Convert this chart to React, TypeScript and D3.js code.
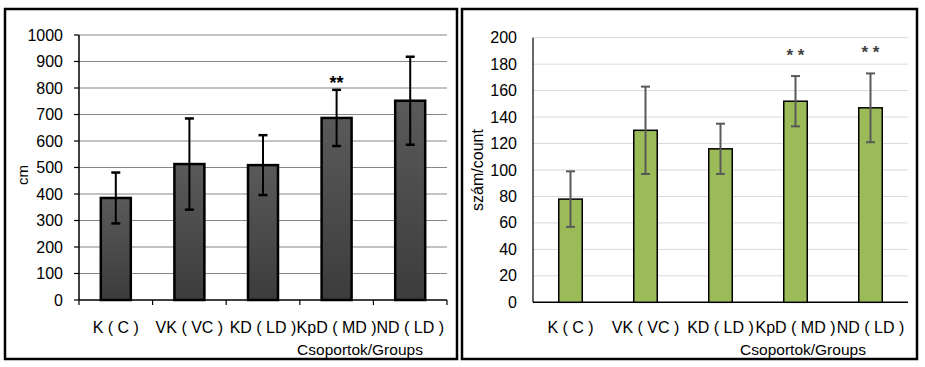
import React from "react";
import * as d3 from "d3";

const categories = ["K ( C )", "VK ( VC )", "KD ( LD )", "KpD ( MD )", "ND ( LD )"];
const lengthMeans = [385, 513, 509, 687, 752];
const lengthErrors = [96, 172, 113, 106, 166];
const lengthSig = ["", "", "", "**", ""];
const countMeans = [78, 130, 116, 152, 147];
const countErrors = [21, 33, 19, 19, 26];
const countSig = ["", "", "", "* *", "* *"];
const lengthTicks = d3.range(0, 1001, 100);
const countTicks = d3.range(0, 201, 20);

const FONT = "Arial, 'Liberation Sans', sans-serif";

function LeftChart() {
  const x = d3.scaleBand<string>().domain(categories).range([79, 447]);
  const y = d3.scaleLinear().domain([0, 1000]).range([300, 35]);
  const bw = 30;
  return (
    <g>
      <defs>
        <linearGradient id="gbar" x1="0" y1="0" x2="0" y2="1">
          <stop offset="0" stopColor="#5a5a5a" />
          <stop offset="1" stopColor="#3c3c3c" />
        </linearGradient>
      </defs>
      <rect x={5} y={9} width={452} height={350} fill="white" stroke="black" strokeWidth={2.5} />
      {lengthTicks.filter((t) => t > 0).map((t) => (
        <line key={t} x1={79} x2={447} y1={y(t)} y2={y(t)} stroke="#868686" strokeWidth={1} />
      ))}
      {lengthTicks.map((t) => (
        <g key={"t" + t}>
          <line x1={74} x2={79} y1={y(t)} y2={y(t)} stroke="black" strokeWidth={1.2} />
          <text x={63} y={y(t) + 5.5} textAnchor="end" fontSize={16} fontFamily={FONT} fill="#000">{t}</text>
        </g>
      ))}
      <line x1={79} x2={79} y1={35} y2={300} stroke="black" strokeWidth={1.5} />
      <line x1={79} x2={447} y1={300} y2={300} stroke="black" strokeWidth={1.5} />
      {[...categories.map((c) => x(c)!), 447].map((p, i) => (
        <line key={"xt" + i} x1={p} x2={p} y1={300} y2={305} stroke="black" strokeWidth={1.2} />
      ))}
      {categories.map((c, i) => {
        const cx = x(c)! + x.bandwidth() / 2;
        const m = lengthMeans[i];
        const e = lengthErrors[i];
        return (
          <g key={c}>
            <rect x={cx - bw / 2} y={y(m)} width={bw} height={y(0) - y(m)} fill="url(#gbar)" stroke="black" strokeWidth={2.5} />
            <line x1={cx} x2={cx} y1={y(m + e)} y2={y(m - e)} stroke="black" strokeWidth={2} />
            <line x1={cx - 4.5} x2={cx + 4.5} y1={y(m + e)} y2={y(m + e)} stroke="black" strokeWidth={2.5} />
            <line x1={cx - 4.5} x2={cx + 4.5} y1={y(m - e)} y2={y(m - e)} stroke="black" strokeWidth={2.5} />
            {lengthSig[i] && (
              <text x={cx} y={y(m + e) - 1} textAnchor="middle" fontSize={18} fontWeight="bold" fontFamily={FONT}>{lengthSig[i]}</text>
            )}
            <text x={cx} y={333} textAnchor="middle" fontSize={16} fontFamily={FONT}>{c}</text>
          </g>
        );
      })}
      <text transform={`translate(28,175) rotate(-90)`} textAnchor="middle" fontSize={15} fontFamily={FONT}>cm</text>
      <text x={360} y={355} textAnchor="middle" fontSize={15.5} fontFamily={FONT}>Csoportok/Groups</text>
    </g>
  );
}

function RightChart() {
  const x = d3.scaleBand<string>().domain(categories).range([533, 908]);
  const y = d3.scaleLinear().domain([0, 200]).range([302.3, 37.7]);
  const bw = 23.5;
  return (
    <g>
      <rect x={462} y={9} width={455} height={350} fill="white" stroke="black" strokeWidth={2.5} />
      {countTicks.filter((t) => t > 0).map((t) => (
        <line key={t} x1={533} x2={908} y1={y(t)} y2={y(t)} stroke="#d9d9d9" strokeWidth={1} />
      ))}
      {countTicks.map((t) => (
        <text key={"t" + t} x={517} y={y(t) + 5.5} textAnchor="end" fontSize={16} fontFamily={FONT} fill="#000">{t}</text>
      ))}
      <line x1={533} x2={533} y1={37.7} y2={302.3} stroke="black" strokeWidth={1.2} />
      <line x1={533} x2={908} y1={302.3} y2={302.3} stroke="black" strokeWidth={1.5} />
      {categories.map((c, i) => {
        const cx = x(c)! + x.bandwidth() / 2;
        const m = countMeans[i];
        const e = countErrors[i];
        return (
          <g key={c}>
            <rect x={cx - bw / 2} y={y(m)} width={bw} height={y(0) - y(m)} fill="#9bbb59" stroke="black" strokeWidth={1.5} />
            <line x1={cx} x2={cx} y1={y(m + e)} y2={y(m - e)} stroke="#595959" strokeWidth={2} />
            <line x1={cx - 4.5} x2={cx + 4.5} y1={y(m + e)} y2={y(m + e)} stroke="#595959" strokeWidth={2} />
            <line x1={cx - 4.5} x2={cx + 4.5} y1={y(m - e)} y2={y(m - e)} stroke="#595959" strokeWidth={2} />
            {countSig[i] && (
              <text x={cx} y={y(m + e) - 15} textAnchor="middle" fontSize={17} fontWeight="bold" fontFamily={FONT} fill="#404040">{countSig[i]}</text>
            )}
            <text x={cx} y={333} textAnchor="middle" fontSize={16} fontFamily={FONT}>{c}</text>
          </g>
        );
      })}
      <text transform={`translate(483,170) rotate(-90)`} textAnchor="middle" fontSize={16} fontFamily={FONT}>szám/count</text>
      <text x={803} y={355} textAnchor="middle" fontSize={15.5} fontFamily={FONT}>Csoportok/Groups</text>
    </g>
  );
}

export default function App() {
  return (
    <svg width={925} height={367} style={{ position: "absolute", left: 0, top: 0, background: "white" }}>
      <rect x={0} y={0} width={925} height={367} fill="white" />
      <LeftChart />
      <RightChart />
    </svg>
  );
}
